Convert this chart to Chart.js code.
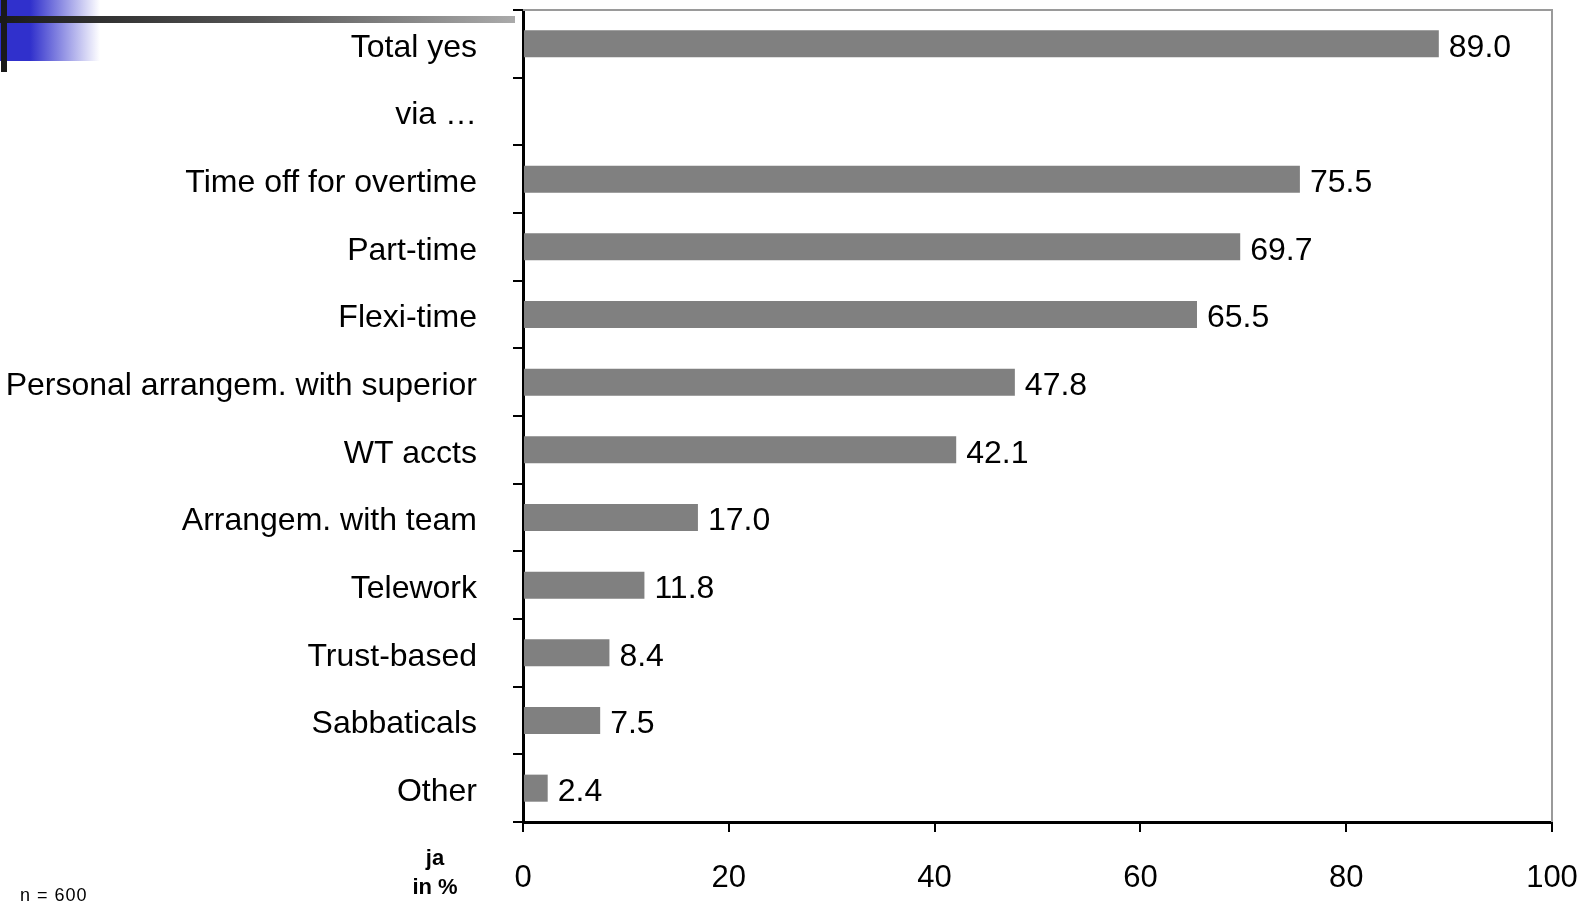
<!DOCTYPE html>
<html>
<head>
<meta charset="utf-8">
<script src="https://cdn.jsdelivr.net/npm/chart.js@4/dist/chart.umd.min.js"></script>
<style>
    html, body { margin: 0; padding: 0; background: #fff; }
    #wrap { position: relative; width: 1592px; height: 902px; overflow: hidden; }
    #grafico { position: absolute; left: 0; top: 0; }
    .deco-azul { position: absolute; left: 0; top: 0; width: 100px; height: 61px;
        background: linear-gradient(to right, #3030cc 0%, #3030cc 30%, #ffffff 100%); }
    .deco-barra { position: absolute; left: 0; top: 16px; width: 515px; height: 7px;
        background: linear-gradient(to right, #1a1a1a 0%, #555 50%, #aaa 100%); }
    .deco-vert { position: absolute; left: 1px; top: 0; width: 6px; height: 72px; background: #1a1a1a; }
    .ja { position: absolute; left: 385px; top: 843px; width: 100px; text-align: center;
        font: bold 22px "Liberation Sans", Arial, sans-serif; line-height: 29px; color: #000; }
    .nota { position: absolute; left: 20px; top: 885px;
        font: 18px "Liberation Sans", Arial, sans-serif; color: #000; letter-spacing: 1px; }
</style>
</head>
<body>
<div id="wrap">
    <canvas id="grafico" width="1592" height="902"></canvas>
    <div class="deco-azul"></div>
    <div class="deco-barra"></div>
    <div class="deco-vert"></div>
    <div class="ja">ja<br>in %</div>
    <div class="nota">n = 600</div>
</div>
<script>
// categorias y valores (en %)
var categorias = [
    "Total yes", "via \u2026", "Time off for overtime", "Part-time", "Flexi-time",
    "Personal arrangem. with superior", "WT accts", "Arrangem. with team",
    "Telework", "Trust-based", "Sabbaticals", "Other"
];
var valores = [89.0, null, 75.5, 69.7, 65.5, 47.8, 42.1, 17.0, 11.8, 8.4, 7.5, 2.4];
var ticksX = [0, 20, 40, 60, 80, 100];

var fuente = '"Liberation Sans", Arial, sans-serif';

// etiquetas con el valor al final de cada barra
var pluginValores = {
    id: "valores",
    afterDatasetsDraw: function (chart) {
        var ctx = chart.ctx;
        var meta = chart.getDatasetMeta(0);
        ctx.save();
        ctx.font = "32px " + fuente;
        ctx.fillStyle = "#000";
        ctx.textAlign = "left";
        ctx.textBaseline = "middle";
        meta.data.forEach(function (bar, i) {
            if (valores[i] === null) return;
            ctx.fillText(valores[i].toFixed(1), bar.x + 10, bar.y + 4);
        });
        ctx.restore();
    }
};

// borde gris arriba y a la derecha del area
var pluginBorde = {
    id: "borde",
    beforeDatasetsDraw: function (chart) {
        var a = chart.chartArea;
        var ctx = chart.ctx;
        ctx.save();
        ctx.strokeStyle = "#9a9a9a";
        ctx.lineWidth = 2;
        ctx.beginPath();
        ctx.moveTo(a.left, a.top);
        ctx.lineTo(a.right, a.top);
        ctx.lineTo(a.right, a.bottom);
        ctx.stroke();
        ctx.restore();
    }
};

var contexto = document.getElementById("grafico").getContext("2d");
var chartSi = new Chart(contexto, {
    type: "bar",
    data: {
        labels: categorias,
        datasets: [
            {
                data: valores,
                backgroundColor: "#808080",
                borderWidth: 0,
                barPercentage: 0.4,
                categoryPercentage: 1.0
            }
        ]
    },
    options: {
        indexAxis: "y",
        responsive: false,
        animation: false,
        layout: { padding: { top: 10, right: 40, left: 0, bottom: 0 } },
        plugins: {
            legend: { display: false },
            tooltip: { enabled: false }
        },
        scales: {
            x: {
                min: 0,
                max: 100,
                afterBuildTicks: function (scale) {
                    scale.ticks = ticksX.map(function (v) { return { value: v }; });
                },
                afterFit: function (scale) {
                    scale.height = 80;
                    scale.paddingLeft = 0;
                    scale.paddingRight = 0;
                },
                grid: {
                    drawOnChartArea: false,
                    drawTicks: true,
                    tickLength: 10,
                    color: "#000",
                    lineWidth: 2
                },
                border: { color: "#000", width: 3 },
                ticks: {
                    color: "#000",
                    font: { family: fuente, size: 31 },
                    padding: 28,
                    maxRotation: 0
                }
            },
            y: {
                afterFit: function (scale) {
                    scale.width = 523;
                    scale.paddingTop = 0;
                    scale.paddingBottom = 0;
                },
                grid: {
                    offset: true,
                    drawOnChartArea: false,
                    drawTicks: true,
                    tickLength: 10,
                    color: "#000",
                    lineWidth: 2
                },
                border: { color: "#000", width: 3 },
                ticks: {
                    color: "#000",
                    font: { family: fuente, size: 32 },
                    padding: 36,
                    labelOffset: 4,
                    autoSkip: false
                }
            }
        }
    },
    plugins: [pluginValores, pluginBorde]
});
</script>
</body>
</html>
